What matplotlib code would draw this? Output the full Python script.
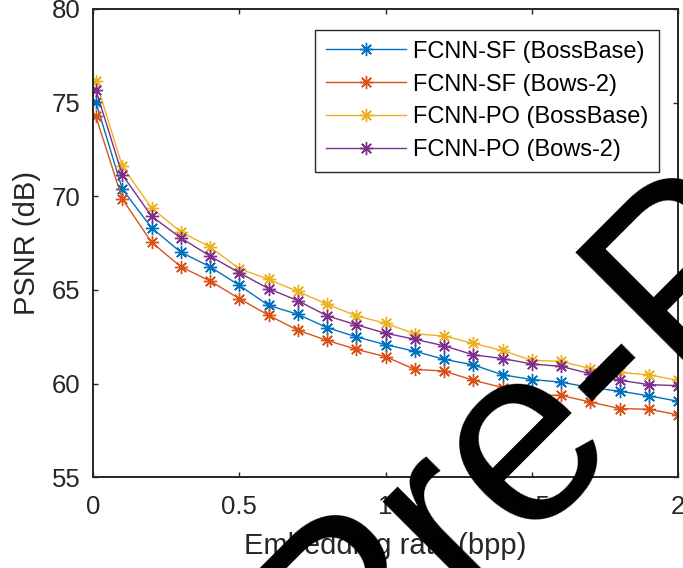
import matplotlib
matplotlib.use('Agg')
import matplotlib.pyplot as plt

plt.rcParams['font.family'] = ['Liberation Sans', 'DejaVu Sans']

# embedding rates (bpp)
rate = [0.01, 0.1, 0.2, 0.3, 0.4, 0.5, 0.6, 0.7, 0.8, 0.9, 1.0,
        1.1, 1.2, 1.3, 1.4, 1.5, 1.6, 1.7, 1.8, 1.9, 2.0]

# PSNR (dB) for each method / dataset
sf_bossbase = [75.02, 70.39, 68.32, 67.02, 66.24, 65.25, 64.18, 63.70, 62.99, 62.50, 62.08,
               61.73, 61.30, 61.00, 60.47, 60.22, 60.08, 59.79, 59.60, 59.35, 59.06]
sf_bows2 = [74.26, 69.86, 67.55, 66.24, 65.48, 64.54, 63.65, 62.85, 62.31, 61.83, 61.44,
            60.76, 60.67, 60.18, 59.79, 59.40, 59.37, 59.02, 58.67, 58.63, 58.34]
po_bossbase = [76.17, 71.60, 69.38, 68.10, 67.30, 66.13, 65.57, 64.92, 64.24, 63.62, 63.22,
               62.66, 62.54, 62.15, 61.77, 61.24, 61.19, 60.80, 60.60, 60.47, 60.18]
po_bows2 = [75.67, 71.15, 68.94, 67.78, 66.81, 65.92, 65.07, 64.43, 63.62, 63.14, 62.69,
            62.37, 62.02, 61.54, 61.34, 61.05, 60.92, 60.53, 60.18, 59.95, 59.89]

labels = ['FCNN-SF (BossBase)', 'FCNN-SF (Bows-2)', 'FCNN-PO (BossBase)', 'FCNN-PO (Bows-2)']
colors = ['#0072BD', '#D95319', '#EDB120', '#7E2F8E']

xticks = [0, 0.5, 1, 1.5, 2]
xticklabels = ['0', '0.5', '1', '1.5', '2']
yticks = [55, 60, 65, 70, 75, 80]

dark = '#262626'

fig = plt.figure(figsize=(6.83, 5.68), dpi=100)
ax = fig.add_axes([0.1362, 0.1597, 0.8565, 0.8245])

asterisk = (8, 2, 0)
for y, lab, c in zip([sf_bossbase, sf_bows2, po_bossbase, po_bows2], labels, colors):
    ax.plot(rate, y, color=c, lw=1.0, marker=asterisk, ms=9.5, mew=1.0, label=lab)

ax.set_xlim(0, 2)
ax.set_ylim(55, 80)
ax.set_xticks(xticks)
ax.set_xticklabels(xticklabels)
ax.set_yticks(yticks)
ax.tick_params(direction='in', length=3.8, width=1.0, colors=dark, labelsize=18.5,
               top=True, right=True)
ax.tick_params(axis='x', pad=13)
ax.tick_params(axis='y', pad=9)
for s in ax.spines.values():
    s.set_color(dark)
    s.set_linewidth(1.4)

ax.set_xlabel('Embedding rate (bpp)', fontsize=21, color=dark, labelpad=9)
ax.set_ylabel('PSNR (dB)', fontsize=21, color=dark, labelpad=8)

leg = ax.legend(loc='upper right', bbox_to_anchor=(0.9675, 0.955), borderaxespad=0,
                fontsize=17, handlelength=3.39, handletextpad=0.3, labelspacing=0.46,
                borderpad=0.45, fancybox=False, framealpha=1, edgecolor=dark)
leg.get_frame().set_linewidth(1.0)

# diagonal watermark over the whole figure
fig.text(0.4996, -0.2542, 'Pre-Proof', fontsize=182, color='black', rotation=45,
         rotation_mode='anchor', ha='left', va='baseline', zorder=10)

fig.savefig('out.png', dpi=100)
